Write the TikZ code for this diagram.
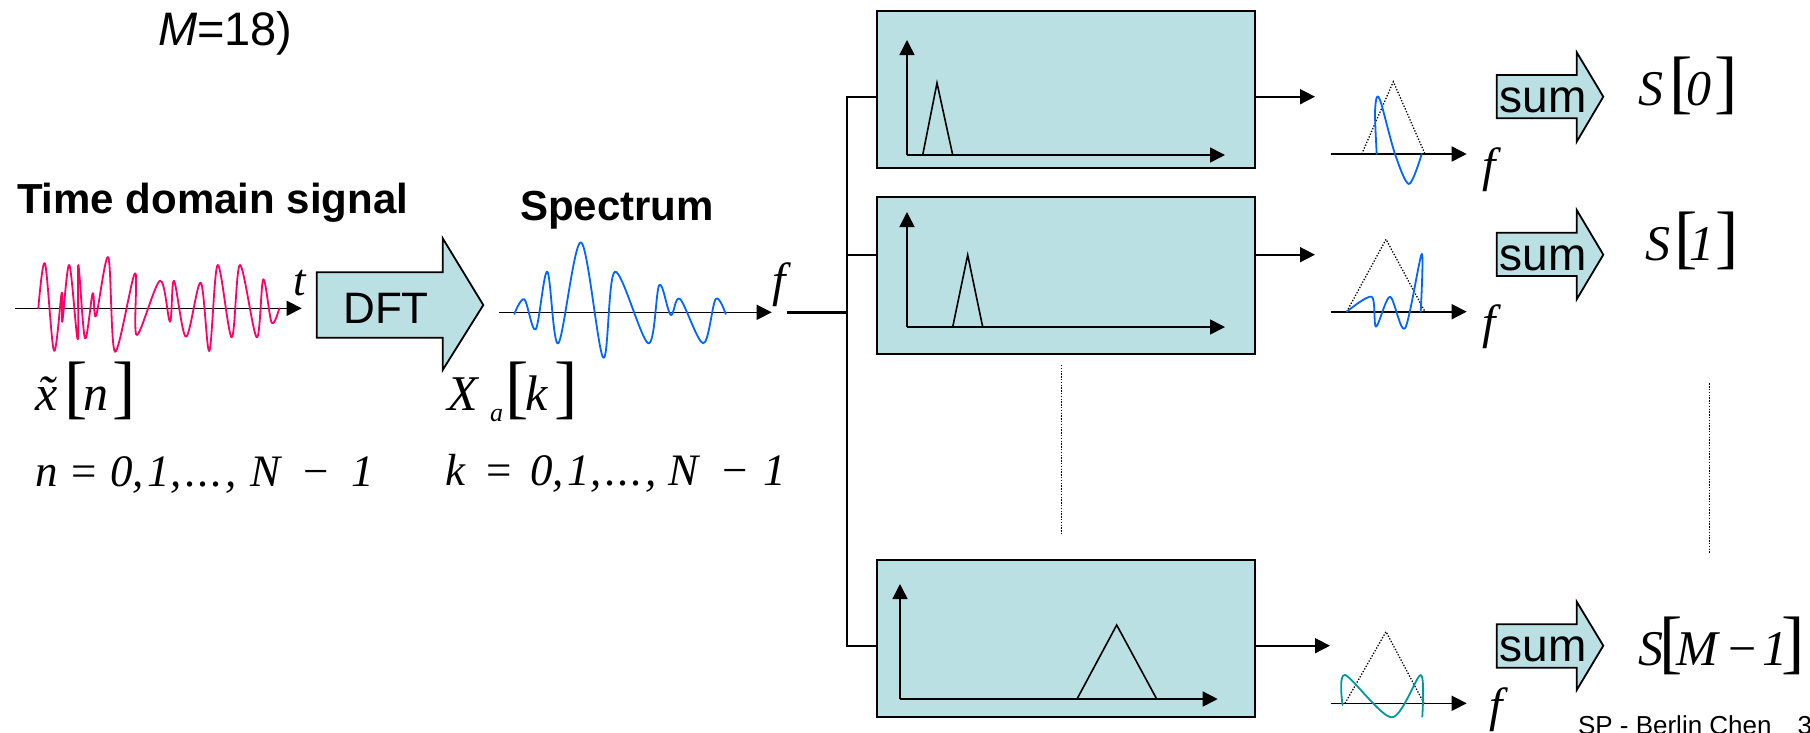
\documentclass[tikz,border=0pt]{standalone}
\usepackage{fontspec}
\setmainfont{Liberation Sans}
\newfontfamily\tms{Liberation Serif}
\usetikzlibrary{arrows.meta}
\definecolor{boxfill}{HTML}{BBE0E3}
\definecolor{sigred}{HTML}{FF0066}
\definecolor{sigblue}{HTML}{0066FF}
\definecolor{sigteal}{HTML}{009999}
\newcommand\fsz[1]{\fontsize{#1}{#1}\selectfont}
\begin{document}
\begin{tikzpicture}[x=1pt,y=-1pt,
  txt/.style={inner sep=0pt,outer sep=0pt,anchor=base west},
  ctxt/.style={inner sep=0pt,outer sep=0pt,anchor=base},
  axis/.style={line width=1.6pt,-{Triangle[length=15pt,width=15pt]}},
  fbox/.style={draw,line width=1.8pt,fill=boxfill,inner sep=0pt,outer sep=0pt,anchor=north west,minimum width=378.3pt,minimum height=157.3pt},
  tri/.style={line width=1.6pt,line join=miter},
  dtri/.style={line width=1.3pt,dash pattern=on 1.3pt off 1.7pt},
  vdots/.style={line width=1.4pt,dash pattern=on 1.4pt off 1.4pt},
  sig/.style={line width=1.8pt,line cap=round,line join=round},
  bigarrow/.style={draw,line width=1.8pt,fill=boxfill,line join=miter},
  bus/.style={line width=1.8pt},
  mathit/.style={txt,font=\tms\itshape\fsz{50}},
  mathup/.style={txt,font=\tms\fsz{45}},
  brk/.style={txt,font=\tms\fsz{70}},
  eqit/.style={txt,font=\tms\itshape\fsz{45}},
  flab/.style={txt,font=\tms\itshape\fsz{48}},
  sumtxt/.style={ctxt,font=\fsz{46}}
]
\useasboundingbox (0,0) rectangle (1810,732);

% ---------- top texts ----------
\node[txt] (mtitle) at (158,45) {\fsz{47}\textit{M}=18)};
\node[txt] (tds) at (17,213) {\fsz{42}\bfseries Time domain signal};
\node[txt] (spec) at (520,220) {\fsz{42}\bfseries Spectrum};

% ---------- time signal ----------
\coordinate (tstart) at (15,308.3);
\coordinate (tend) at (301.7,308.3);
\draw[axis] (tstart) -- (tend);
\draw[sig,sigred] plot[smooth,tension=0.55] coordinates {(38.3,308.3) (45,263.3) (54,350.7) (61.7,292.7) (62.3,321.7) (69.3,265) (77.7,339.3) (78.3,265) (85,338.3) (92.7,293.3) (96,316) (108.3,257.3) (115,351.7) (135,273.3) (136.7,335) (160,280.7) (170,321.7) (174,280.7) (186,336.7) (200.7,282.7) (209.3,351) (217.7,265) (231.7,337.3) (240,265) (256.7,337.3) (263.3,279.3) (271.7,322.7) (279.3,308.3)};
\node[txt] (tlab) at (293,295) {\tms\itshape\fsz{45}t};

% ---------- DFT arrow ----------
\draw[bigarrow] (316.7,272.3) -- (442.7,272.3) -- (442.7,238.3) -- (483.3,305) -- (442.7,370) -- (442.7,337.7) -- (316.7,337.7) -- cycle;
\node[ctxt,font=\fsz{44}] (dft) at (386,323.3) {DFT};

% ---------- spectrum ----------
\coordinate (sstart) at (499.3,312.3);
\coordinate (send) at (771.7,312.3);
\draw[axis] (sstart) -- (send);
\draw[sig,sigblue] plot[smooth,tension=0.55] coordinates {(514.3,314) (524.3,299.3) (535.7,329.3) (547.3,271.7) (558.3,343.3) (581,242.3) (603.3,357.7) (615,271.7) (648.3,343.3) (659.3,285) (670.7,315) (680,299) (703.3,343.3) (715.7,299) (725.7,314)};
\node[flab] (flab0) at (772,296) {f};

% ---------- math labels left ----------
\node[txt] (xt) at (35,410) {\tms\itshape\fsz{50}\accent"02DC x};
\node[brk] (xlb) at (64.7,410) {[};
\node[mathit] (xn) at (83,410) {n};
\node[brk] (xrb) at (112.6,410) {]};

\node[mathit] (Xa) at (447,410) {X};
\node[txt,font=\tms\itshape\fsz{26}] (Xsub) at (490,421.7) {a};
\node[brk] (Xlb) at (505.7,410) {[};
\node[mathit] (Xk) at (525,410) {k};
\node[brk] (Xrb) at (554.3,410) {]};

\node[eqit] (nn) at (35,486.7) {n};
\node[mathup] (neq) at (71.7,486.7) {=};
\node[eqit] (ndig) at (110,486.7) {0,\kern4pt1,\kern4pt.\kern2pt.\kern2pt.\kern2pt,};
\node[eqit] (nN) at (250,486.7) {N};
\node[mathup] (nmin) at (303,486.7) {−};
\node[eqit] (none) at (351,486.7) {1};

\node[eqit] (kk) at (445,485) {k};
\node[mathup] (keq) at (486.7,485) {=};
\node[eqit] (kdig) at (530,485) {0,\kern4pt1,\kern4pt.\kern2pt.\kern2pt.\kern2pt,};
\node[eqit] (kN) at (668,485) {N};
\node[mathup] (kmin) at (722.7,485) {−};
\node[eqit] (kone) at (763,485) {1};

% ---------- filter boxes ----------
\node[fbox] (box1) at (876.7,10.7) {};
\node[fbox] (box2) at (876.7,197) {};
\node[fbox] (box3) at (876.7,560) {};

% box 1 content
\draw[axis] (907,155) -- (907,40);
\draw[axis] (907,155) -- (1225,155);
\draw[tri] (922.7,155) -- (937,83) -- (952.7,155);
% box 2 content
\draw[axis] (907,327) -- (907,212);
\draw[axis] (907,327) -- (1225,327);
\draw[tri] (952.7,327) -- (967.7,255) -- (982.7,327);
% box 3 content
\draw[axis] (900,699) -- (900,584);
\draw[axis] (900,699) -- (1217.7,699);
\draw[tri] (1077,699) -- (1116.7,625) -- (1156.7,699);

% ---------- bus ----------
\coordinate (fin) at (786.7,312.3);
\coordinate (jin) at (846.7,312.3);
\coordinate (j1) at (846.7,96.7);
\coordinate (j2) at (846.7,254.7);
\coordinate (j3) at (846.7,645.7);
\draw[line width=2.6pt] (fin) -- (jin);
\draw[bus] (j1 -| box1.west) -- (j1) -- (j3) -- (j3 -| box3.west);
\draw[bus] (j2) -- (j2 -| box2.west);

% ---------- outputs ----------
\coordinate (o1) at (1315,96.7);
\coordinate (o2) at (1315,254.7);
\coordinate (o3) at (1330,645.7);
\draw[axis] (o1 -| box1.east) -- (o1);
\draw[axis] (o2 -| box2.east) -- (o2);
\draw[axis] (o3 -| box3.east) -- (o3);

% dotted continuation lines
\draw[vdots] (1061.7,365) -- (1061.7,535);
\draw[vdots] (1709.3,383.3) -- (1709.3,552.7);

% ---------- small plots ----------
\draw[axis] (1330.7,154) -- (1466.7,154);
\draw[dtri] (1361.7,154) -- (1393.3,81.7) -- (1425,154);
\draw[sig,sigblue] plot[smooth,tension=0.5] coordinates {(1376.7,154) (1375,115) (1376.7,97.5) (1381,103) (1395,154) (1409,184) (1421.7,154)};
\node[flab] (flab1) at (1482,181) {f};

\draw[axis] (1330.7,311.7) -- (1466.7,311.7);
\draw[dtri] (1346.7,311.7) -- (1386,239.3) -- (1425,311.7);
\draw[sig,sigblue] plot[smooth,tension=0.5] coordinates {(1346.7,311.7) (1371.7,296.7) (1376,326.7) (1390,296.7) (1405,328.3) (1421.7,254) (1420.7,311.7)};
\node[flab] (flab2) at (1482,338) {f};

\draw[axis] (1330.7,703.3) -- (1466.7,703.3);
\draw[dtri] (1345,703.3) -- (1386,631.7) -- (1424,703.3);
\draw[sig,sigteal] plot[smooth,tension=0.5] coordinates {(1342.5,705) (1345,675) (1391.7,717.3) (1420.7,675) (1422.3,716.7)};
\node[flab] (flab3) at (1489,721) {f};

% ---------- sum arrows ----------
\draw[bigarrow] (1496.7,75) -- (1576.7,75) -- (1576.7,52.3) -- (1603.3,96.7) -- (1576.7,141.7) -- (1576.7,118.3) -- (1496.7,118.3) -- cycle;
\node[sumtxt] (sum1) at (1543,112.7) {sum};
\draw[bigarrow] (1496.7,232.7) -- (1576.7,232.7) -- (1576.7,210) -- (1603.3,254.7) -- (1576.7,299.3) -- (1576.7,276) -- (1496.7,276) -- cycle;
\node[sumtxt] (sum2) at (1543,270) {sum};
\draw[bigarrow] (1496.7,624.3) -- (1576.7,624.3) -- (1576.7,601.7) -- (1603.3,645.7) -- (1576.7,690) -- (1576.7,667.7) -- (1496.7,667.7) -- cycle;
\node[sumtxt] (sum3) at (1543,661.7) {sum};

% ---------- outputs S ----------
\node[mathit] (s0S) at (1638,105) {S};
\node[brk] (s0l) at (1669,105) {[};
\node[mathit] (s0v) at (1686,105) {0};
\node[brk] (s0r) at (1714,105) {]};

\node[mathit] (s1S) at (1645,260) {S};
\node[brk] (s1l) at (1674,260) {[};
\node[mathit] (s1v) at (1689,260) {1};
\node[brk] (s1r) at (1715,260) {]};

\node[mathit] (smS) at (1638,665) {S};
\node[brk] (sml) at (1659,665) {[};
\node[mathit] (smM) at (1676,665) {M};
\node[txt,font=\tms\fsz{50}] (smmin) at (1728,665) {−};
\node[mathit] (smone) at (1762,665) {1};
\node[brk] (smr) at (1781,665) {]};

% ---------- footer ----------
\node[txt,font=\fsz{26}] (footer) at (1578,734) {SP - Berlin Chen\kern26pt 3};
\end{tikzpicture}
\end{document}
